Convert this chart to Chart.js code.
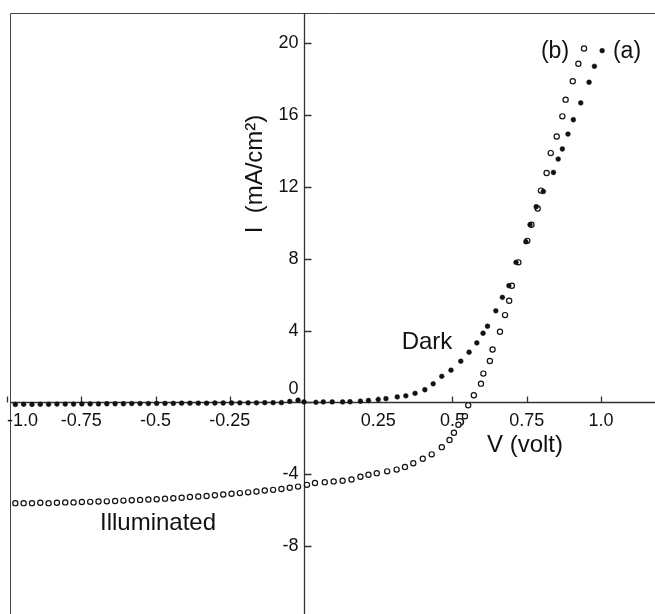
<!DOCTYPE html>
<html>
<head>
<meta charset="utf-8">
<script src="https://cdn.jsdelivr.net/npm/chart.js@4.4.1/dist/chart.umd.min.js"></script>
<style>
  html, body { margin: 0; padding: 0; background: #fff; }
  #wrap { width: 655px; height: 614px; position: relative; }
</style>
</head>
<body>
<div id="wrap"><canvas id="ivChart" width="655" height="614"></canvas></div>
<script>
// Dark curve (a), filled dots: voltage (V) and current density (mA/cm2)
const darkV = [-1.0, -0.972, -0.944, -0.916, -0.888, -0.86, -0.832, -0.804, -0.776, -0.748,
  -0.72, -0.692, -0.664, -0.636, -0.608, -0.58, -0.552, -0.524, -0.496, -0.468,
  -0.44, -0.412, -0.384, -0.356, -0.328, -0.3, -0.272, -0.244, -0.216, -0.188,
  -0.16, -0.132, -0.104, -0.076, -0.048, -0.02,
  0.0, 0.04, 0.065, 0.095, 0.13, 0.155, 0.19, 0.217, 0.25, 0.276,
  0.314, 0.343, 0.374, 0.407, 0.435, 0.464, 0.495, 0.528, 0.556, 0.582,
  0.603, 0.618, 0.646, 0.668, 0.69, 0.714, 0.747, 0.761, 0.782, 0.806,
  0.84, 0.856, 0.87, 0.889, 0.907, 0.932, 0.96, 0.978, 1.004];
const darkI = [-0.12, -0.12, -0.11, -0.12, -0.11, -0.11, -0.1, -0.1, -0.1, -0.09,
  -0.09, -0.09, -0.08, -0.08, -0.08, -0.07, -0.07, -0.07, -0.06, -0.06,
  -0.06, -0.05, -0.05, -0.05, -0.05, -0.04, -0.04, -0.04, -0.03, -0.03,
  -0.03, -0.02, -0.02, -0.02, 0.05, 0.12,
  0.02, 0.0, 0.02, 0.02, 0.02, 0.03, 0.06, 0.1, 0.15, 0.2,
  0.3, 0.36, 0.5, 0.7, 1.03, 1.45, 1.79, 2.29, 2.79, 3.31,
  3.85, 4.24, 5.1, 5.85, 6.5, 7.8, 8.95, 9.9, 10.9, 11.75,
  12.81, 13.56, 14.12, 14.95, 15.75, 16.69, 17.84, 18.73, 19.6];

// Illuminated curve (b), open circles
const illumV = [-1.0, -0.972, -0.944, -0.916, -0.888, -0.86, -0.832, -0.804, -0.776, -0.748,
  -0.72, -0.692, -0.664, -0.636, -0.608, -0.58, -0.552, -0.524, -0.496, -0.468,
  -0.44, -0.412, -0.384, -0.356, -0.328, -0.3, -0.272, -0.244, -0.216, -0.188,
  -0.16, -0.132, -0.104, -0.076, -0.048, -0.02,
  0.01, 0.037, 0.07, 0.1, 0.13, 0.16, 0.19, 0.217, 0.245, 0.28,
  0.312, 0.34, 0.368, 0.4, 0.43, 0.464, 0.49, 0.505, 0.52, 0.542,
  0.553, 0.572, 0.596, 0.604, 0.626, 0.635, 0.66, 0.677, 0.691, 0.70,
  0.722, 0.752, 0.766, 0.787, 0.798, 0.817, 0.831, 0.851, 0.87, 0.881,
  0.905, 0.924, 0.943];
const illumI = [-5.6, -5.62, -5.62, -5.62, -5.6, -5.62, -5.6, -5.58, -5.58, -5.56,
  -5.55, -5.53, -5.52, -5.5, -5.48, -5.46, -5.44, -5.42, -5.4, -5.37,
  -5.35, -5.32, -5.28, -5.25, -5.22, -5.18, -5.14, -5.1, -5.06, -5.02,
  -4.97, -4.92, -4.88, -4.83, -4.76, -4.7,
  -4.6, -4.5, -4.45, -4.41, -4.37, -4.3, -4.15, -4.04, -3.95, -3.85,
  -3.75, -3.6, -3.4, -3.15, -2.9, -2.5, -2.1, -1.7, -1.25, -0.78,
  -0.17, 0.39, 1.04, 1.6, 2.3, 2.94, 3.93, 4.86, 5.66, 6.5,
  7.8, 9.0, 9.9, 10.8, 11.8, 12.78, 13.89, 14.82, 15.94, 16.87,
  17.9, 18.87, 19.72];

// Axis ticks drawn through the origin
const xTickValues = [-1.0, -0.75, -0.5, -0.25, 0.25, 0.5, 0.75, 1.0];
const xTickLabels = ['-1.0', '-0.75', '-0.5', '-0.25', '0.25', '0.5', '0.75', '1.0'];
const yTickValues = [20, 16, 12, 8, 4, 0, -4, -8];
const yTickLabels = ['20', '16', '12', '8', '4', '0', '-4', '-8'];

const toPoints = (xs, ys) => xs.map((x, i) => ({ x: x, y: ys[i] }));

const FONT = '"Liberation Sans", Arial, sans-serif';
const INK = '#111';

// Draws frame, crossing axes, ticks and text labels
const originAxes = {
  id: 'originAxes',
  beforeDatasetsDraw(chart) {
    const { ctx, chartArea: a, scales: { x, y } } = chart;
    const x0 = Math.round(x.getPixelForValue(0)) + 0.5;
    const y0 = Math.round(y.getPixelForValue(0)) + 0.5;
    ctx.save();
    // frame (top and left visible)
    ctx.strokeStyle = '#444';
    ctx.lineWidth = 1;
    ctx.beginPath();
    ctx.moveTo(a.left + 0.5, a.bottom + 5);
    ctx.lineTo(a.left + 0.5, a.top + 0.5);
    ctx.lineTo(a.right + 5, a.top + 0.5);
    ctx.stroke();

    // axes
    ctx.strokeStyle = '#333';
    ctx.lineWidth = 1.3;
    ctx.beginPath();
    ctx.moveTo(a.left, y0);
    ctx.lineTo(a.right, y0);
    ctx.moveTo(x0, a.top);
    ctx.lineTo(x0, a.bottom);
    ctx.stroke();

    // x ticks point up
    ctx.beginPath();
    xTickValues.forEach(v => {
      const px = Math.round(x.getPixelForValue(v)) + 0.5;
      ctx.moveTo(px, y0);
      ctx.lineTo(px, y0 - 6);
    });
    // y ticks point right
    yTickValues.forEach(v => {
      const py = Math.round(y.getPixelForValue(v)) + 0.5;
      ctx.moveTo(x0, py);
      ctx.lineTo(x0 + 7, py);
    });
    ctx.stroke();

    // tick labels
    ctx.fillStyle = INK;
    ctx.font = '18px ' + FONT;
    ctx.textBaseline = 'middle';
    xTickValues.forEach((v, i) => {
      const px = x.getPixelForValue(v);
      const w = ctx.measureText(xTickLabels[i]).width;
      const left = Math.max(px - w / 2, a.left - 3);
      ctx.textAlign = 'left';
      ctx.fillText(xTickLabels[i], left, y0 + 19);
    });
    ctx.textAlign = 'right';
    yTickValues.forEach((v, i) => {
      let py = y.getPixelForValue(v);
      if (v === 0) py -= 13;
      ctx.fillText(yTickLabels[i], x0 - 6, py);
    });
    ctx.restore();
  },
  afterDraw(chart) {
    const { ctx } = chart;
    ctx.save();
    ctx.fillStyle = INK;
    ctx.font = '24px ' + FONT;
    ctx.textAlign = 'center';
    ctx.textBaseline = 'middle';
    ctx.fillText('V (volt)', 525, 445);
    ctx.fillText('Dark', 427, 342);
    ctx.fillText('Illuminated', 158, 523);
    ctx.font = '23px ' + FONT;
    ctx.fillText('(b)', 555, 52);
    ctx.fillText('(a)', 627, 52);
    // rotated y title
    ctx.font = '24px ' + FONT;
    ctx.translate(255, 174);
    ctx.rotate(-Math.PI / 2);
    ctx.fillText('I  (mA/cm\u00B2)', 0, 0);
    ctx.restore();
  }
};

new Chart(document.getElementById('ivChart'), {
  type: 'scatter',
  data: {
    datasets: [
      {
        label: 'Dark (a)',
        data: toPoints(darkV, darkI),
        pointRadius: 2.4,
        pointBackgroundColor: '#111',
        pointBorderColor: '#111',
        pointBorderWidth: 0.5
      },
      {
        label: 'Illuminated (b)',
        data: toPoints(illumV, illumI),
        pointRadius: 2.6,
        pointBackgroundColor: '#fff',
        pointBorderColor: '#111',
        pointBorderWidth: 1.2
      }
    ]
  },
  options: {
    responsive: false,
    animation: false,
    layout: { autoPadding: false, padding: { left: 10, top: 13, right: 0, bottom: 0 } },
    plugins: {
      legend: { display: false },
      tooltip: { enabled: false }
    },
    scales: {
      x: { type: 'linear', min: -0.99, max: 1.182, display: false },
      y: { type: 'linear', min: -11.8, max: 21.7, display: false }
    }
  },
  plugins: [originAxes]
});
</script>
</body>
</html>
